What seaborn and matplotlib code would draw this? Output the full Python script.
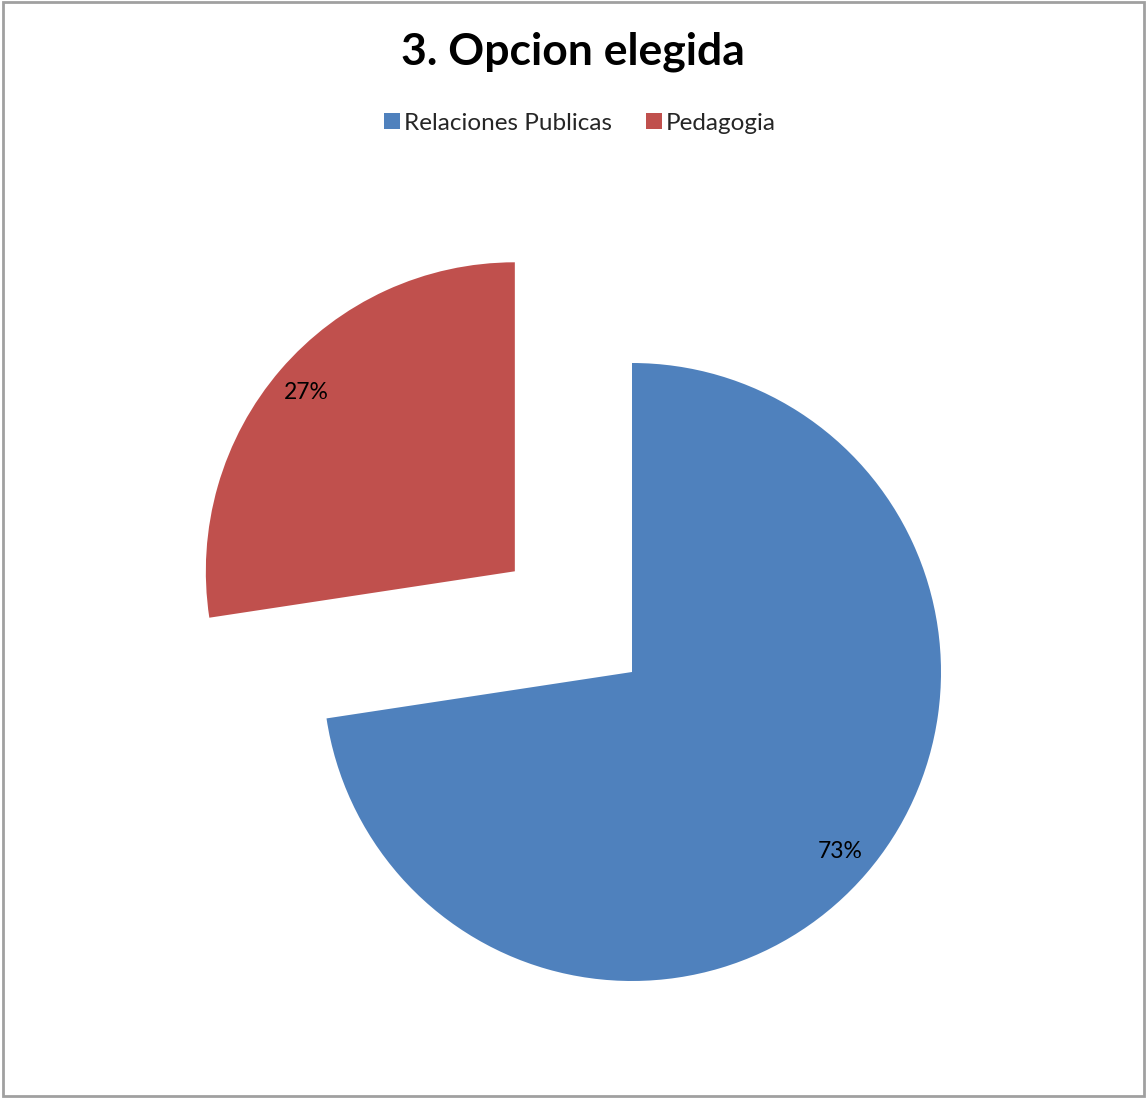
import matplotlib
matplotlib.use("Agg")
import matplotlib.pyplot as plt
import seaborn as sns
from matplotlib.lines import Line2D
from matplotlib.patches import Rectangle

# Data
categories = ["Relaciones Publicas", "Pedagogia"]
values = [72.6, 27.4]
colors = ["#4F81BD", "#C0504D"]
explode = [0, 0.5]

sns.set_theme(style="white")
plt.rcParams['font.family'] = ['Lato', 'DejaVu Sans']

fig = plt.figure(figsize=(11.46, 10.99), dpi=100)
ax = fig.add_axes([0, 0, 1, 1])

wedges, texts, autotexts = ax.pie(
    values, colors=colors, explode=explode, startangle=90, counterclock=False,
    autopct="%1.0f%%", pctdistance=0.89, wedgeprops=dict(linewidth=0),
    textprops=dict(fontsize=16.5, color="black"),
)

# pie centre at (632, 672) px, radius 309 px
r = 309.0
ax.set_xlim(-632 / r, (1146 - 632) / r)
ax.set_ylim((672 - 1099) / r, 672 / r)
ax.set_aspect('auto')
ax.axis('off')

fig.text(573 / 1146, 1 - 52 / 1099, "3. Opcion elegida", ha="center", va="center",
         fontsize=32, fontweight="bold", color="black")

handles = [Line2D([], [], marker='s', linestyle='none', markersize=11,
                  markerfacecolor=c, markeredgewidth=0) for c in colors]
fig.legend(handles, categories, loc="center", bbox_to_anchor=(578 / 1146, 1 - 123 / 1099),
           ncol=2, frameon=False, fontsize=17.5, handletextpad=0.0,
           columnspacing=1.2, handlelength=1.0)

fig.patches.append(Rectangle((2.5 / 1146, 3 / 1099), 1141 / 1146, 1094 / 1099,
                             transform=fig.transFigure, fill=False,
                             edgecolor="#A0A0A0", linewidth=2))

fig.savefig("out.png", dpi=100)
